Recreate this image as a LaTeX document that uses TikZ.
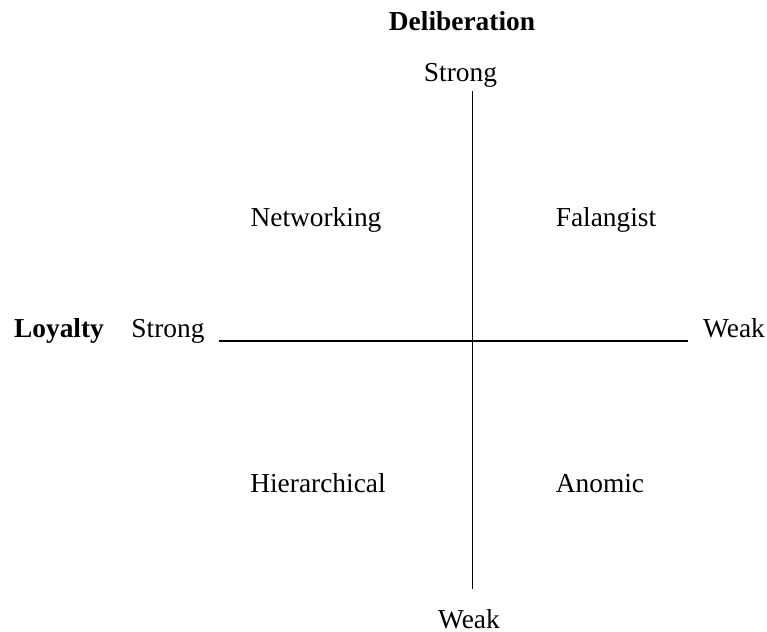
\documentclass[tikz,border=0pt]{standalone}
\usepackage{fontspec}
\setmainfont{Liberation Serif}
\begin{document}
\begin{tikzpicture}[x=1bp,y=-1bp,
  lab/.style={anchor=base,inner sep=0pt,font=\fontsize{27.5}{33}\selectfont},
  blab/.style={lab,font=\fontsize{27.5}{33}\selectfont\bfseries},
  axis/.style={line width=1.6bp,black}]
\useasboundingbox (0,0) rectangle (767,632);
\node[blab] (delib) at (462,31) {Deliberation};
\node[lab] (dstrong) at (460.5,82) {Strong};
\node[lab] (dweak) at (469,628) {Weak};
\node[blab] (loyal) at (59,337) {Loyalty};
\node[lab] (lstrong) at (168,337) {Strong};
\node[lab] (lweak) at (734,337) {Weak};
\node[lab] (net) at (316,227) {Networking};
\node[lab] (fal) at (606,227) {Falangist};
\node[lab] (hier) at (318,492) {Hierarchical};
\node[lab] (anom) at (600,492) {Anomic};
\coordinate (vt) at (472.5,91);
\coordinate (vb) at (472.5,589);
\coordinate (hl) at (219,341);
\coordinate (hr) at (688,341);
\draw[axis] (vt) -- (vb);
\draw[line width=1.3bp] (hl) -- (hr);
\end{tikzpicture}
\end{document}
